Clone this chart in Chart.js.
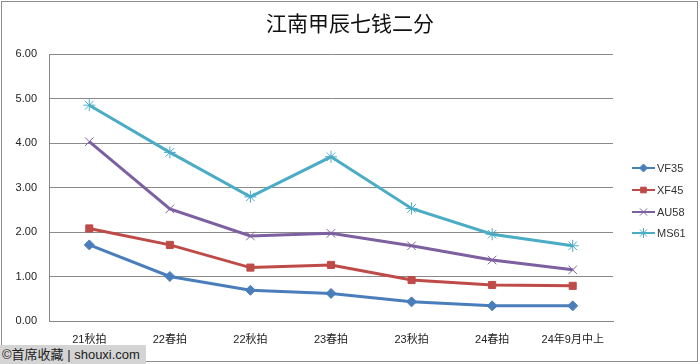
<!DOCTYPE html>
<html>
<head>
<meta charset="utf-8">
<script src="https://cdn.jsdelivr.net/npm/chart.js@4"></script>
<style>
  html, body { margin: 0; padding: 0; background: #fff; }
  #wrap { position: relative; width: 700px; height: 364px; }
  #mark {
    position: absolute; left: 0; top: 345px; width: 146px; height: 19px;
    background: #d4d4d4; color: #222; font: 13px "Liberation Sans", "Noto Sans CJK SC", sans-serif;
    line-height: 19px; padding-left: 2px; box-sizing: border-box; white-space: nowrap;
  }
</style>
</head>
<body>
<div id="wrap">
  <canvas id="chart" width="700" height="364"></canvas>
  <div id="mark">©首席收藏 | shouxi.com</div>
</div>
<script>
const title = '江南甲辰七钱二分';
const labels = ['21秋拍', '22春拍', '22秋拍', '23春拍', '23秋拍', '24春拍', '24年9月中上'];
const vf35 = [1.71, 1.00, 0.69, 0.62, 0.43, 0.34, 0.34];
const xf45 = [2.08, 1.71, 1.20, 1.26, 0.92, 0.81, 0.79];
const au58 = [4.03, 2.52, 1.91, 1.97, 1.69, 1.37, 1.15];
const ms61 = [4.85, 3.79, 2.79, 3.69, 2.53, 1.95, 1.69];

const FONT = '"Liberation Sans", "Noto Sans CJK SC", sans-serif';

function series(name, data, color, style, radius) {
    return {
        label: name,
        data: data,
        borderColor: color,
        backgroundColor: color,
        borderWidth: 3,
        pointStyle: style,
        pointRadius: radius,
        pointBorderWidth: 1,
        pointBackgroundColor: color,
        pointBorderColor: color,
    };
}

// title over the whole canvas, legend as line + marker, outer frame
const decor = {
    id: 'decor',
    afterDraw(chart) {
        const ctx = chart.ctx;
        const ys = [168, 190, 212, 233];
        ctx.save();
        ctx.fillStyle = '#111';
        ctx.font = '21px "Noto Sans CJK SC", sans-serif';
        ctx.textAlign = 'center';
        ctx.textBaseline = 'middle';
        ctx.fillText(title, 350, 23);

        chart.data.datasets.forEach((d, i) => {
            ctx.strokeStyle = d.borderColor;
            ctx.lineWidth = 2;
            ctx.beginPath();
            ctx.moveTo(632, ys[i]);
            ctx.lineTo(655, ys[i]);
            ctx.stroke();
            ctx.fillStyle = d.pointBackgroundColor;
            ctx.lineWidth = 1;
            Chart.helpers.drawPoint(ctx, {
                pointStyle: d.pointStyle,
                radius: d.pointRadius - 1,
                borderWidth: 1,
                rotation: 0,
            }, 643.5, ys[i]);
            ctx.fillStyle = '#333';
            ctx.font = '11px ' + FONT;
            ctx.textAlign = 'left';
            ctx.fillText(d.label, 657, ys[i] + 1);
        });
        ctx.strokeStyle = '#8c8c8c';
        ctx.lineWidth = 1;
        ctx.strokeRect(1.5, 1.5, 696, 360);
        ctx.restore();
    }
};

new Chart(document.getElementById('chart'), {
    type: 'line',
    data: {
        labels: labels,
        datasets: [
            series('VF35', vf35, '#4a7ebb', 'rectRot', 5),
            series('XF45', xf45, '#be4b48', 'rect', 5),
            series('AU58', au58, '#7d60a0', 'crossRot', 6),
            series('MS61', ms61, '#4bacc6', 'star', 6),
        ]
    },
    options: {
        responsive: false,
        animation: false,
        layout: { padding: { left: 0, right: 87, top: 54, bottom: 0 } },
        plugins: {
            legend: { display: false },
            tooltip: { enabled: false },
            title: { display: false }
        },
        scales: {
            x: {
                offset: true,
                grid: { display: false, drawTicks: false },
                border: { color: '#868686', width: 1 },
                ticks: { color: '#222', font: { family: FONT, size: 11 }, padding: 12, maxRotation: 0 },
                afterFit(scale) { scale.height = 43; }
            },
            y: {
                min: 0,
                max: 6,
                grid: { color: '#8a8a8a', lineWidth: 1, drawTicks: false },
                border: { color: '#868686', width: 1 },
                ticks: {
                    stepSize: 1,
                    color: '#222',
                    font: { family: FONT, size: 11 },
                    padding: 12,
                    callback: (v) => v.toFixed(2),
                },
                afterFit(scale) { scale.width = 49; }
            }
        }
    },
    plugins: [decor]
});
</script>
</body>
</html>
